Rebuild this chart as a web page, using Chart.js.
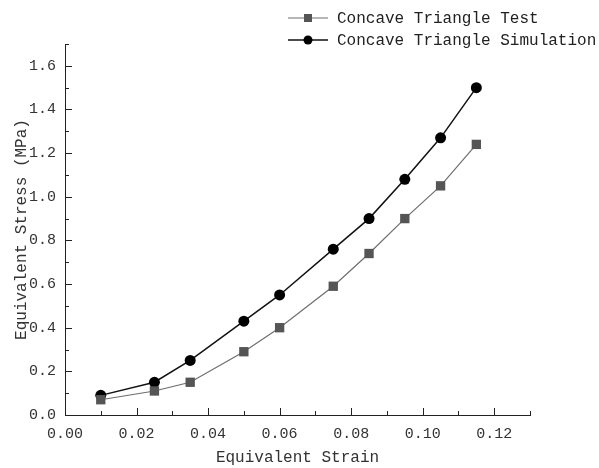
<!DOCTYPE html>
<html>
<head>
<meta charset="utf-8">
<script src="https://cdn.jsdelivr.net/npm/chart.js@4.4.1/dist/chart.umd.min.js"></script>
<style>
  body { margin: 0; background: #fff; }
  canvas { display: block; }
</style>
</head>
<body>
<canvas id="chart" width="599" height="468"></canvas>
<script>
const strain = [0.01, 0.025, 0.035, 0.05, 0.06, 0.075, 0.085, 0.095, 0.105, 0.115];
const testStress = [0.07, 0.11, 0.15, 0.29, 0.40, 0.59, 0.74, 0.90, 1.05, 1.24];
const simStress = [0.09, 0.15, 0.25, 0.43, 0.55, 0.76, 0.90, 1.08, 1.27, 1.50];
const xTickValues = [0, 0.02, 0.04, 0.06, 0.08, 0.10, 0.12];
const yTickValues = [0, 0.2, 0.4, 0.6, 0.8, 1.0, 1.2, 1.4, 1.6];

const FONT = "'Liberation Mono', 'DejaVu Sans Mono', monospace";
const INK = "#222";

function points(ys) {
  return strain.map((x, i) => ({ x: x, y: ys[i] }));
}

// inward major + minor ticks, drawn from the scales
const innerTicks = {
  id: 'innerTicks',
  afterDraw(chart) {
    const ctx = chart.ctx;
    const xs = chart.scales.x, ys = chart.scales.y;
    const area = chart.chartArea;
    ctx.save();
    ctx.strokeStyle = INK;
    ctx.lineWidth = 1;
    ctx.beginPath();
    for (let i = 1; i <= 13; i++) {
      const v = i / 100;
      const px = Math.round(xs.getPixelForValue(v)) + 0.5;
      const len = i % 2 === 0 ? 7 : 4;
      ctx.moveTo(px, area.bottom);
      ctx.lineTo(px, area.bottom - len);
    }
    for (let i = 1; i <= 17; i++) {
      const v = i / 10;
      const py = Math.round(ys.getPixelForValue(v)) + 0.5;
      const len = i % 2 === 0 ? 7 : 4;
      ctx.moveTo(area.left, py);
      ctx.lineTo(area.left + len, py);
    }
    ctx.stroke();
    ctx.restore();
  }
};

// legend stacked at top right, left aligned
const stackedLegend = {
  id: 'stackedLegend',
  afterDraw(chart) {
    const ctx = chart.ctx;
    ctx.save();
    ctx.font = "16px " + FONT;
    ctx.textBaseline = 'middle';
    chart.data.datasets.forEach((ds, i) => {
      const y = 18 + i * 22;
      const x0 = 288, x1 = 328;
      ctx.strokeStyle = ds.borderColor;
      ctx.lineWidth = ds.borderWidth;
      ctx.beginPath();
      ctx.moveTo(x0, y);
      ctx.lineTo(x1, y);
      ctx.stroke();
      ctx.fillStyle = ds.pointBackgroundColor;
      if (ds.pointStyle === 'rect') {
        ctx.fillRect(308 - 4, y - 4, 8, 8);
      } else {
        ctx.beginPath();
        ctx.arc(308, y, 4.5, 0, Math.PI * 2);
        ctx.fill();
      }
      ctx.fillStyle = INK;
      ctx.fillText(ds.label, 337, y + 1);
    });
    ctx.restore();
  }
};

new Chart(document.getElementById('chart').getContext('2d'), {
  type: 'scatter',
  data: {
    datasets: [
      {
        label: 'Concave Triangle Test',
        data: points(testStress),
        showLine: true,
        borderColor: '#6e6e6e',
        borderWidth: 1.2,
        pointStyle: 'rect',
        pointRadius: 6.6,
        pointBackgroundColor: '#555',
        pointBorderColor: '#555',
        pointBorderWidth: 0
      },
      {
        label: 'Concave Triangle Simulation',
        data: points(simStress),
        showLine: true,
        borderColor: '#111',
        borderWidth: 1.5,
        pointStyle: 'circle',
        pointRadius: 5.5,
        pointBackgroundColor: '#000',
        pointBorderColor: '#000',
        pointBorderWidth: 0
      }
    ]
  },
  options: {
    responsive: false,
    animation: false,
    layout: { padding: { top: 44, right: 69, left: 12, bottom: 1 } },
    plugins: {
      legend: { display: false },
      tooltip: { enabled: false }
    },
    scales: {
      x: {
        type: 'linear',
        min: 0,
        max: 0.13,
        afterFit(scale) { scale.height = 52; },
        afterBuildTicks(scale) { scale.ticks = xTickValues.map(v => ({ value: v })); },
        grid: { display: false, drawTicks: false },
        border: { display: true, color: INK, width: 1 },
        ticks: {
          padding: 10,
          color: '#333',
          font: { family: FONT, size: 15 },
          callback: v => v.toFixed(2)
        },
        title: {
          display: true,
          text: 'Equivalent Strain',
          color: '#333',
          font: { family: FONT, size: 16 },
          padding: { top: 0, bottom: 0 }
        }
      },
      y: {
        type: 'linear',
        min: 0,
        max: 1.7,
        afterFit(scale) { scale.width = 53; },
        afterBuildTicks(scale) { scale.ticks = yTickValues.map(v => ({ value: v })); },
        grid: { display: false, drawTicks: false },
        border: { display: true, color: INK, width: 1 },
        ticks: {
          padding: 9,
          color: '#333',
          font: { family: FONT, size: 15 },
          callback: v => v.toFixed(1)
        },
        title: {
          display: true,
          text: 'Equivalent Stress (MPa)',
          color: '#333',
          font: { family: FONT, size: 16 },
          padding: { top: 0, bottom: 0 }
        }
      }
    }
  },
  plugins: [innerTicks, stackedLegend]
});
</script>
</body>
</html>
